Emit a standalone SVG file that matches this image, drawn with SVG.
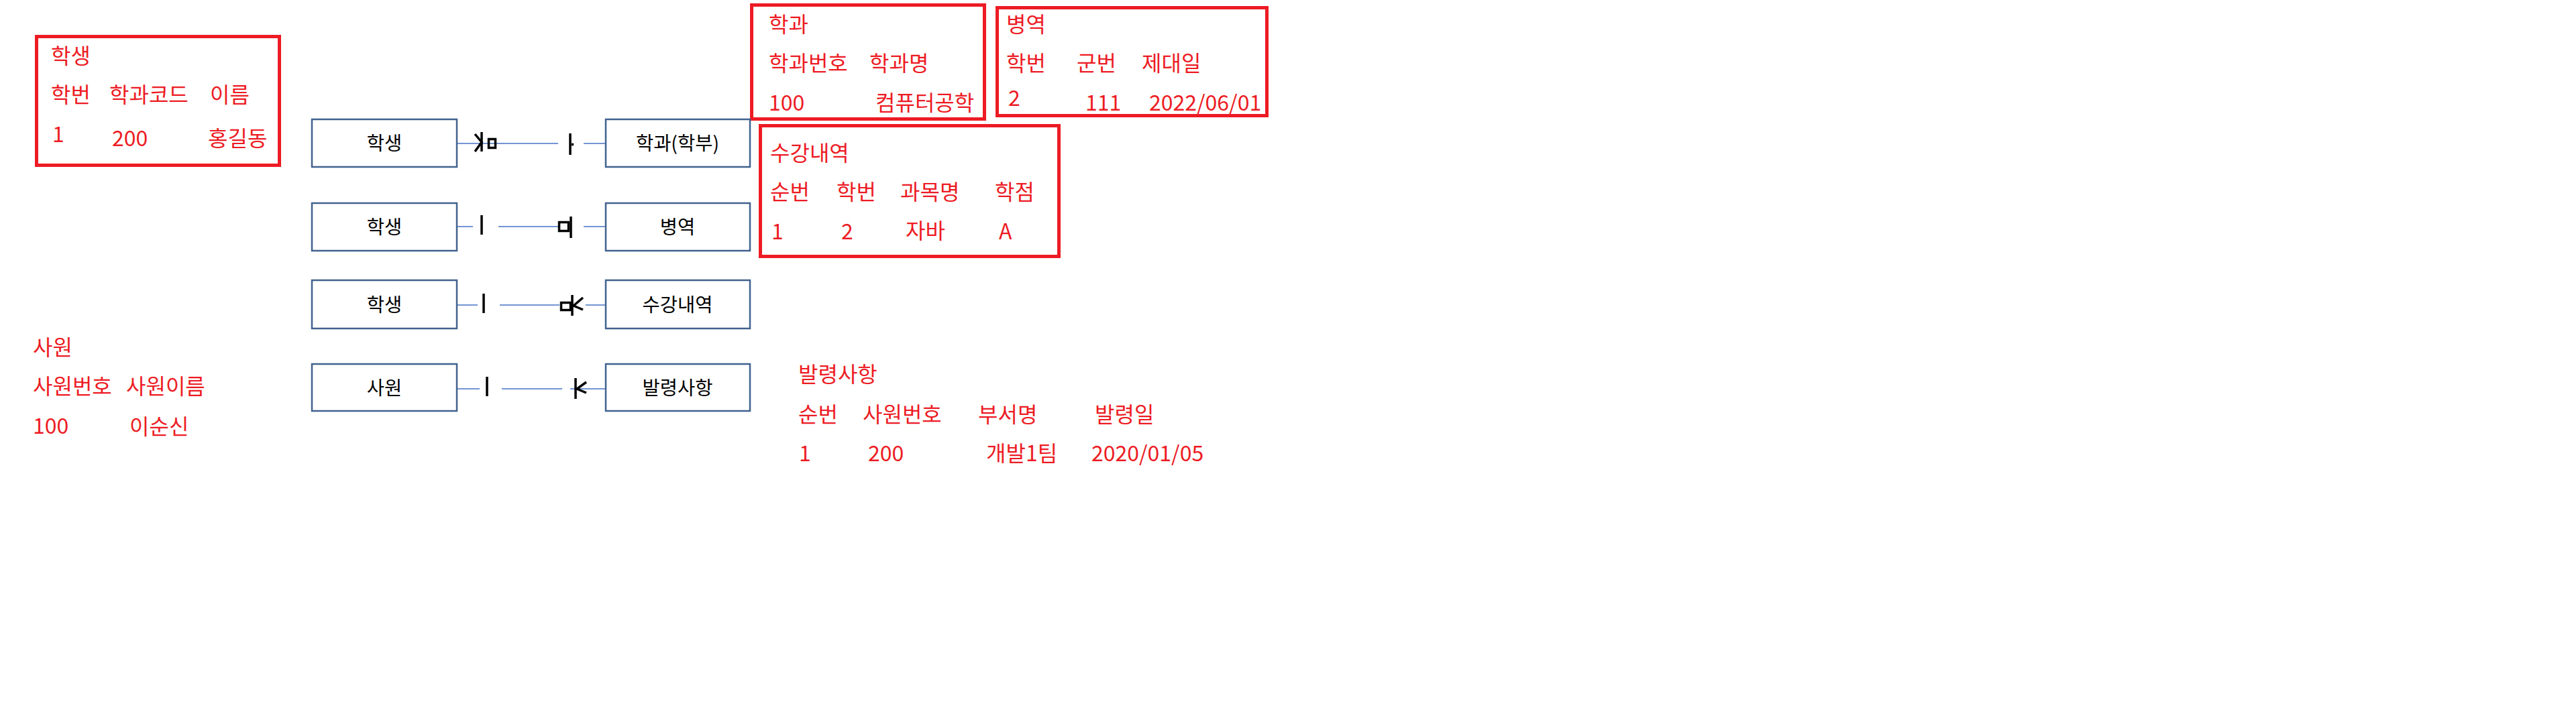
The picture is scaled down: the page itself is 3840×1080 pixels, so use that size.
<svg xmlns="http://www.w3.org/2000/svg" width="3840" height="1080" viewBox="0 0 3840 1080">
<style>
.t{font-family:"Noto Sans CJK KR","Noto Sans",sans-serif;font-size:32px;fill:#ED1C24}
.n{font-family:"Noto Sans CJK KR","Noto Sans",sans-serif;font-size:28.5px;fill:#000;text-anchor:middle}
.rb{fill:none;stroke:#ED1C24;stroke-width:5}
.nb{fill:#fff;stroke:#41618F;stroke-width:2.5}
.ln{stroke:#4472C4;stroke-width:1.5;fill:none}
.sym{stroke:#000;stroke-width:3.5;fill:none}
.wh{fill:#fff;stroke:none}
</style>
<rect width="3840" height="1080" fill="#fff"/>

<g id="table-student">
<rect class="rb" x="54.5" y="54.5" width="362" height="192"/>
<text class="t" x="76" y="95">학생</text>
<text class="t" x="76" y="153">학번</text>
<text class="t" x="163" y="153">학과코드</text>
<text class="t" x="313" y="153">이름</text>
<text class="t" x="78" y="212">1</text>
<text class="t" x="167" y="218">200</text>
<text class="t" x="310" y="218">홍길동</text>
</g>

<g id="table-dept">
<rect class="rb" x="1120.5" y="7.5" width="347" height="170"/>
<text class="t" x="1146" y="48">학과</text>
<text class="t" x="1146" y="106">학과번호</text>
<text class="t" x="1296" y="106">학과명</text>
<text class="t" x="1146" y="165">100</text>
<text class="t" x="1305" y="165">컴퓨터공학</text>
</g>

<g id="table-military">
<rect class="rb" x="1486.5" y="11.5" width="402" height="161"/>
<text class="t" x="1500" y="48">병역</text>
<text class="t" x="1500" y="106">학번</text>
<text class="t" x="1605" y="106">군번</text>
<text class="t" x="1702" y="106">제대일</text>
<text class="t" x="1503" y="158">2</text>
<text class="t" x="1618" y="165">111</text>
<text class="t" x="1713" y="165">2022/06/01</text>
</g>

<g id="table-course">
<rect class="rb" x="1133.5" y="187.5" width="445" height="195"/>
<text class="t" x="1148" y="240">수강내역</text>
<text class="t" x="1148" y="298">순번</text>
<text class="t" x="1247" y="298">학번</text>
<text class="t" x="1342" y="298">과목명</text>
<text class="t" x="1483" y="298">학점</text>
<text class="t" x="1150" y="357">1</text>
<text class="t" x="1254" y="357">2</text>
<text class="t" x="1350" y="356">자바</text>
<text class="t" x="1489" y="357">A</text>
</g>

<g id="table-employee">
<text class="t" x="49" y="530">사원</text>
<text class="t" x="49" y="588">사원번호</text>
<text class="t" x="188" y="588">사원이름</text>
<text class="t" x="49" y="647">100</text>
<text class="t" x="193" y="648">이순신</text>
</g>

<g id="table-order">
<text class="t" x="1190" y="570">발령사항</text>
<text class="t" x="1190" y="630">순번</text>
<text class="t" x="1286" y="630">사원번호</text>
<text class="t" x="1458" y="630">부서명</text>
<text class="t" x="1632" y="630">발령일</text>
<text class="t" x="1191" y="688">1</text>
<text class="t" x="1294" y="688">200</text>
<text class="t" x="1470" y="688">개발1팀</text>
<text class="t" x="1627" y="688">2020/01/05</text>
</g>

<g id="connectors">
<!-- row 1 -->
<line class="ln" x1="681" y1="214" x2="903" y2="214"/>
<rect class="wh" x="832" y="192" width="38" height="37"/>
<line class="sym" x1="718" y1="197" x2="718" y2="226"/>
<polyline class="sym" points="708,200 718,212 708,226"/>
<rect class="sym" x="728.5" y="207.5" width="10" height="13"/>
<line class="sym" x1="850" y1="199" x2="850" y2="231"/>
<line class="sym" x1="852" y1="215" x2="855" y2="216" stroke-width="2"/>
<!-- row 2 -->
<line class="ln" x1="681" y1="338" x2="903" y2="338"/>
<rect class="wh" x="705" y="326" width="38" height="24"/>
<rect class="wh" x="832" y="322" width="38" height="30"/>
<line class="sym" x1="718" y1="321" x2="718" y2="350"/>
<rect class="sym" x="833.5" y="331.5" width="14" height="13"/>
<line class="sym" x1="851" y1="323" x2="851" y2="355"/>
<!-- row 3 -->
<line class="ln" x1="681" y1="455" x2="903" y2="455"/>
<rect class="wh" x="712" y="440" width="33" height="28"/>
<rect class="wh" x="834" y="440" width="39" height="31"/>
<line class="sym" x1="721" y1="438" x2="721" y2="467"/>
<rect class="sym" x="836.5" y="451.5" width="14" height="11"/>
<line class="sym" x1="853" y1="440" x2="853" y2="471"/>
<polyline class="sym" points="869,444 855,456 869,462"/>
<!-- row 4 -->
<line class="ln" x1="681" y1="580" x2="903" y2="580"/>
<rect class="wh" x="715" y="566" width="33" height="26"/>
<rect class="wh" x="838" y="566" width="12" height="28"/>
<line class="sym" x1="726" y1="562" x2="726" y2="591"/>
<line class="sym" x1="858" y1="564" x2="858" y2="595"/>
<polyline class="sym" points="874,570 860,580 874,586"/>
</g>

<g id="node-student1"><rect class="nb" x="465" y="178" width="216" height="71"/><text class="n" x="573" y="224">학생</text></g>
<g id="node-dept"><rect class="nb" x="903" y="178" width="215" height="71"/><text class="n" x="1010" y="224">학과(학부)</text></g>
<g id="node-student2"><rect class="nb" x="465" y="303" width="216" height="71"/><text class="n" x="573" y="349">학생</text></g>
<g id="node-military"><rect class="nb" x="903" y="303" width="215" height="71"/><text class="n" x="1010" y="349">병역</text></g>
<g id="node-student3"><rect class="nb" x="465" y="418" width="216" height="72"/><text class="n" x="573" y="465">학생</text></g>
<g id="node-course"><rect class="nb" x="903" y="418" width="215" height="72"/><text class="n" x="1010" y="465">수강내역</text></g>
<g id="node-employee"><rect class="nb" x="465" y="543" width="216" height="70"/><text class="n" x="573" y="589">사원</text></g>
<g id="node-order"><rect class="nb" x="903" y="543" width="215" height="70"/><text class="n" x="1010" y="589">발령사항</text></g>
</svg>
